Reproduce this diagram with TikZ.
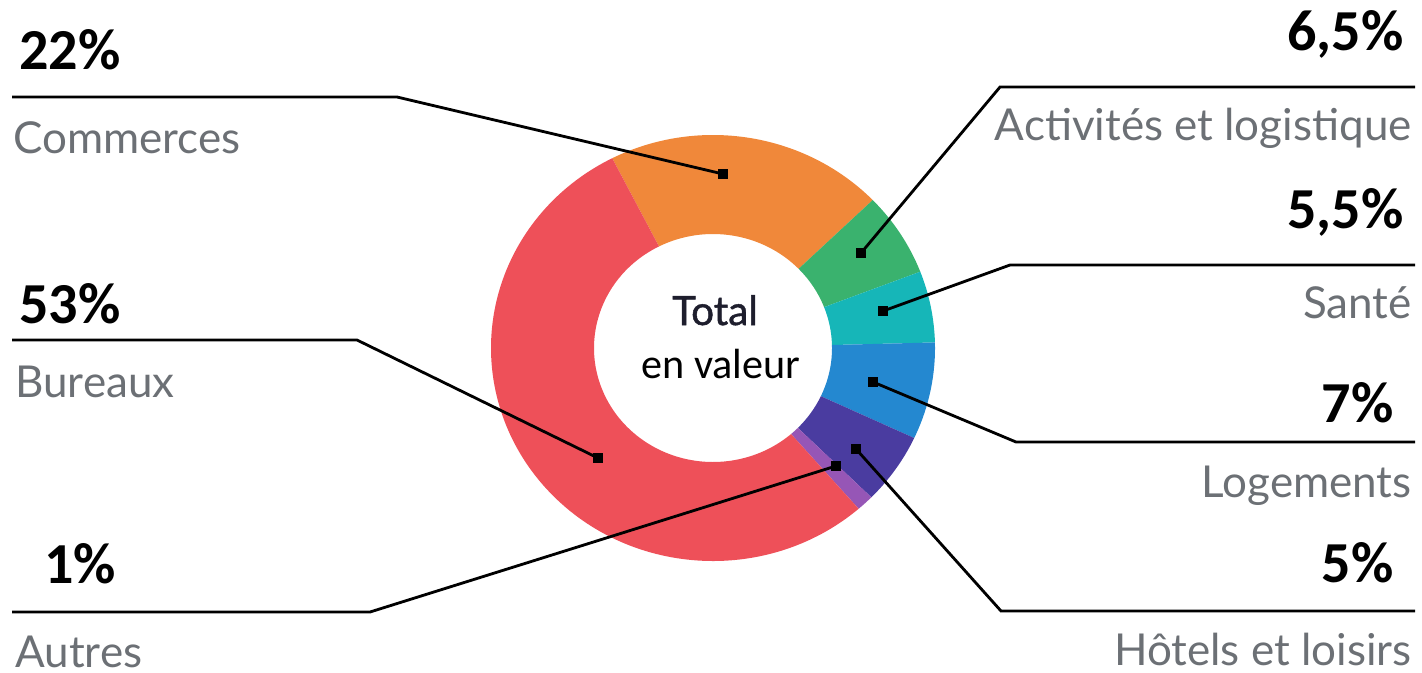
\documentclass[tikz,border=0pt]{standalone}
\usepackage{fontspec}
\usepackage{tikz}
\newfontfamily\pctfont{Carlito}
\newfontfamily\labfont{Lato}
\newfontfamily\totfont[FakeBold=1.2]{Lato}
\definecolor{cOrange}{RGB}{240,136,58}
\definecolor{cRed}{RGB}{238,80,89}
\definecolor{cGreen}{RGB}{58,178,110}
\definecolor{cCyan}{RGB}{22,182,184}
\definecolor{cBlue}{RGB}{36,136,208}
\definecolor{cPurple}{RGB}{74,60,160}
\definecolor{cLilac}{RGB}{150,86,182}
\definecolor{cLabel}{RGB}{108,112,117}

\begin{document}
\begin{tikzpicture}[x=0.01cm,y=0.01cm,style=thick]
\newcommand{\ring}[3]{\fill[#1] (#2:222 and 213) arc[start angle=#2,end angle=#3,x radius=222,y radius=213]
  -- (#3:119 and 114) arc[start angle=#3,end angle=#2,x radius=119,y radius=114] -- cycle;}
\tikzstyle{pct}=[font=\pctfont\bfseries\fontsize{16.5}{18}\selectfont,inner sep=0pt]
\tikzstyle{lab}=[font=\labfont\fontsize{12.5}{14}\selectfont,text=cLabel,inner sep=0pt]
\tikzstyle{leader}=[line width=0.8pt,black]
\tikzstyle{dot}=[rectangle,fill=black,inner sep=0pt,minimum size=2.6pt]
\useasboundingbox (0,0) rectangle (1422,672);
\begin{scope}[shift={(713,324)}]
\ring{cOrange}{117}{44}
\ring{cGreen}{44}{21}
\ring{cCyan}{21}{1.5}
\ring{cBlue}{1.5}{-25}
\ring{cPurple}{-25}{-44.5}
\ring{cLilac}{-44.5}{-49}
\ring{cRed}{-49}{-243}
\end{scope}
\node[inner sep=0pt,anchor=base,font=\totfont\fontsize{11.5}{13}\selectfont,text={rgb,255:red,30;green,30;blue,45}] (T_1) at (715,347) {Total};
\node[inner sep=0pt,anchor=base,font=\pctfont\fontsize{12}{14}\selectfont] (T_2) at (721,294) {en valeur};
% left side
\node[pct,anchor=base west] (P_com) at (18,603) {22\%};
\node[lab,anchor=base west] (L_com) at (12,519) {Commerces};
\node[pct,anchor=base west] (P_bur) at (18,349) {53\%};
\node[lab,anchor=base west] (L_bur) at (14,275) {Bureaux};
\node[pct,anchor=base west] (P_aut) at (43,89) {1\%};
\node[lab,anchor=base west] (L_aut) at (14,5) {Autres};
% right side
\node[pct,anchor=base east] (P_act) at (1405,622) {6,5\%};
\node[lab,anchor=base east] (L_act) at (1413,532) {Activités et logistique};
\node[pct,anchor=base east] (P_san) at (1405,444) {5,5\%};
\node[lab,anchor=base east] (L_san) at (1413,354) {Santé};
\node[pct,anchor=base east] (P_log) at (1395,250) {7\%};
\node[lab,anchor=base east] (L_log) at (1413,175) {Logements};
\node[pct,anchor=base east] (P_hot) at (1395,90) {5\%};
\node[lab,anchor=base east] (L_hot) at (1413,7) {Hôtels et loisirs};
% leaders
\node[dot] (D_com) at (723,498) {};
\node[dot] (D_bur) at (598,214) {};
\node[dot] (D_aut) at (836,206) {};
\node[dot] (D_act) at (861,419) {};
\node[dot] (D_san) at (883,361) {};
\node[dot] (D_log) at (873,290) {};
\node[dot] (D_hot) at (856,223) {};
\coordinate (S_com) at (12,575);  \coordinate (K_com) at (397,575);
\coordinate (S_bur) at (12,332);  \coordinate (K_bur) at (357,332);
\coordinate (S_aut) at (12,60);   \coordinate (K_aut) at (370,60);
\coordinate (S_act) at (1415,585); \coordinate (K_act) at (1000,585);
\coordinate (S_san) at (1415,407); \coordinate (K_san) at (1010,407);
\coordinate (S_log) at (1415,230); \coordinate (K_log) at (1016,230);
\coordinate (S_hot) at (1415,61);  \coordinate (K_hot) at (1001,61);
\draw[leader] (S_com) -- (K_com) -- (D_com.center);
\draw[leader] (S_bur) -- (K_bur) -- (D_bur.center);
\draw[leader] (S_aut) -- (K_aut) -- (D_aut.center);
\draw[leader] (S_act) -- (K_act) -- (D_act.center);
\draw[leader] (S_san) -- (K_san) -- (D_san.center);
\draw[leader] (S_log) -- (K_log) -- (D_log.center);
\draw[leader] (S_hot) -- (K_hot) -- (D_hot.center);
\end{tikzpicture}
\end{document}
